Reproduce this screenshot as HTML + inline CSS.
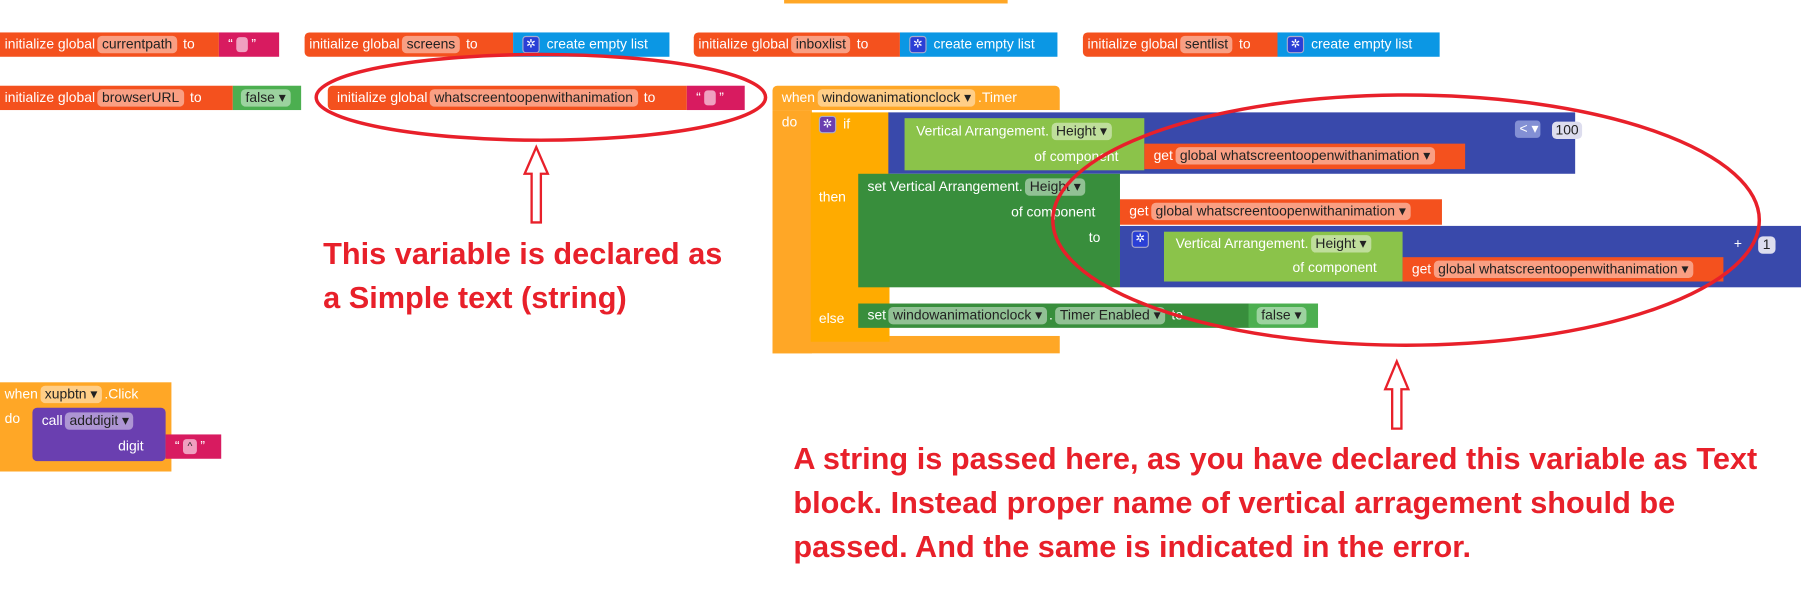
<!DOCTYPE html>
<html><head><meta charset="utf-8"><style>
html,body{margin:0;padding:0;background:#fff;width:1801px;height:614px;overflow:hidden}
#s{position:absolute;left:0;top:0;width:1555px;height:530px;transform:scale(1.15820,1.15849);transform-origin:0 0;font-family:"Liberation Sans",sans-serif}
.b{position:absolute;color:#fff;font-size:12px;line-height:21px;white-space:nowrap;box-sizing:border-box;padding-left:4px}
.f{display:inline-block;background:rgba(255,255,255,.45);color:#222;border-radius:4px;padding:0 4px;line-height:15px;margin:0 2px}
.o{background:#f4511e}.p{background:#d81b60}.bl{background:#0b97e4}.g{background:#4caf50}
.c{background:#ffa726}.m{background:#3949ab}.lg{background:#8bc34a}.dg{background:#388e3c}.pu{background:#6a3fb0}
.gear{display:inline-block;width:13px;height:13px;background:#2a3fd6;border:1px solid #aac;border-radius:3px;vertical-align:middle;color:#fff;font-size:10px;line-height:13px;text-align:center;margin-right:6px}
.q{display:inline-block;width:10px;height:13px;background:#f0a0c0;border-radius:3px;vertical-align:middle;margin:0 3px}
.t{position:absolute;color:#e8202a;font-weight:bold;font-size:26.5px;line-height:38px;white-space:nowrap}
</style></head><body><div id="s">
<div class="b c" style="left:677px;top:0;width:193px;height:3px;padding:0"></div>

<div class="b o" style="left:0;top:28px;width:189px;height:21px">initialize global<span class="f">currentpath</span> to</div>
<div class="b p" style="left:189px;top:28px;width:52px;height:21px;padding-left:8px">“<span class="q"></span>”</div>
<div class="b o" style="left:263px;top:28px;width:180px;height:21px;border-radius:4px 0 0 4px">initialize global<span class="f">screens</span> to</div>
<div class="b bl" style="left:443px;top:28px;width:135px;height:21px;padding-left:8px"><span class="gear">✲</span>create empty list</div>
<div class="b o" style="left:599px;top:28px;width:178px;height:21px;border-radius:4px 0 0 4px">initialize global<span class="f">inboxlist</span> to</div>
<div class="b bl" style="left:777px;top:28px;width:136px;height:21px;padding-left:8px"><span class="gear">✲</span>create empty list</div>
<div class="b o" style="left:935px;top:28px;width:168px;height:21px;border-radius:4px 0 0 4px">initialize global<span class="f">sentlist</span> to</div>
<div class="b bl" style="left:1103px;top:28px;width:140px;height:21px;padding-left:8px"><span class="gear">✲</span>create empty list</div>

<div class="b o" style="left:0;top:74px;width:201px;height:21px">initialize global<span class="f">browserURL</span> to</div>
<div class="b g" style="left:201px;top:74px;width:59px;height:21px;padding-left:5px"><span class="f">false ▾</span></div>
<div class="b o" style="left:283px;top:74px;width:310px;height:21px;border-radius:4px 0 0 4px;padding-left:8px">initialize global<span class="f">whatscreentoopenwithanimation</span> to</div>
<div class="b p" style="left:593px;top:74px;width:50px;height:21px;padding-left:8px">“<span class="q"></span>”</div>

<!-- when timer -->
<div class="b c" style="left:667px;top:74px;width:248px;height:21px;border-radius:4px 4px 0 0;padding-left:8px">when<span class="f">windowanimationclock ▾</span>.Timer</div>
<div class="b c" style="left:667px;top:95px;width:34px;height:210px;padding-left:8px">do</div>
<div class="b c" style="left:667px;top:290px;width:248px;height:15px"></div>
<div class="b" style="left:700px;top:97px;width:68px;height:198px;background:#ffab00;padding-left:7px"><span class="gear" style="background:#6a3fb0">✲</span>if<br><br><br>then<br><br><br><br><br>else</div>
<div class="b m" style="left:767px;top:97px;width:593px;height:53px"></div>
<div class="b lg" style="left:781px;top:102px;width:207px;height:45px;padding-left:10px;line-height:22px">Vertical Arrangement.<span class="f">Height ▾</span><br><span style="padding-left:102px">of component</span></div>
<div class="b o" style="left:988px;top:124px;width:277px;height:22px;padding-left:8px">get<span class="f">global whatscreentoopenwithanimation ▾</span></div>
<div class="b" style="left:1308px;top:104px;width:22px;height:15px;background:#8390d4;border-radius:3px;line-height:15px">&lt; ▾</div>
<div class="b" style="left:1340px;top:102px;width:14px;height:20px;padding:0"><span class="f" style="background:#dde;margin:0;padding:0 3px">100</span></div>

<div class="b dg" style="left:741px;top:150px;width:226px;height:98px;padding-left:8px;line-height:22px">set Vertical Arrangement.<span class="f">Height ▾</span><br><span style="padding-left:124px">of component</span><br><span style="padding-left:191px">to</span></div>
<div class="b o" style="left:967px;top:172px;width:278px;height:22px;padding-left:8px">get<span class="f">global whatscreentoopenwithanimation ▾</span></div>
<div class="b m" style="left:967px;top:195px;width:588px;height:53px;padding-left:10px;line-height:22px"><span class="gear">✲</span></div>
<div class="b lg" style="left:1005px;top:200px;width:206px;height:43px;padding-left:10px;line-height:21px">Vertical Arrangement.<span class="f">Height ▾</span><br><span style="padding-left:101px">of component</span></div>
<div class="b o" style="left:1211px;top:222px;width:277px;height:21px;padding-left:8px">get<span class="f">global whatscreentoopenwithanimation ▾</span></div>
<div class="b" style="left:1497px;top:200px;width:10px;height:21px;padding:0">+</div>
<div class="b" style="left:1518px;top:201px;width:28px;height:20px;padding:0"><span class="f" style="background:#dde;margin:0;padding:0 4px">1</span></div>

<div class="b dg" style="left:741px;top:262px;width:338px;height:21px;padding-left:8px">set<span class="f">windowanimationclock ▾</span>.<span class="f">Timer Enabled ▾</span> to</div>
<div class="b g" style="left:1078px;top:262px;width:60px;height:21px;padding-left:5px"><span class="f">false ▾</span></div>

<!-- xupbtn -->
<div class="b c" style="left:0;top:330px;width:148px;height:77px;padding-left:4px;line-height:21px">when<span class="f">xupbtn ▾</span>.Click<br>do</div>
<div class="b pu" style="left:28px;top:352px;width:115px;height:46px;padding-left:8px;border-radius:4px;line-height:22px">call<span class="f">adddigit ▾</span><br><span style="padding-left:66px">digit</span></div>
<div class="b p" style="left:143px;top:375px;width:48px;height:21px;padding-left:8px">“<span class="q" style="width:12px;color:#222;font-size:9px;text-align:center;line-height:13px">^</span>”</div>

<svg style="position:absolute;left:0;top:0" width="1555" height="530">
<g fill="none" stroke="#e8202a" stroke-width="3">
<ellipse cx="467" cy="84" rx="194" ry="37"/>
<ellipse cx="1214" cy="190" rx="305" ry="108"/>
<path d="M459 192 V150 H453 L463 127 L473 150 H467 V192 Z" stroke-width="2"/>
<path d="M1202 370 V336 H1196 L1206 312 L1216 336 H1210 V370 Z" stroke-width="2"/>
</g></svg>
<div class="t" style="left:279px;top:200px">This variable is declared as<br>a Simple text (string)</div>
<div class="t" style="left:685px;top:377px">A string is passed here, as you have declared this variable as Text<br>block. Instead proper name of vertical arragement should be<br>passed. And the same is indicated in the error.</div>
</div></body></html>
